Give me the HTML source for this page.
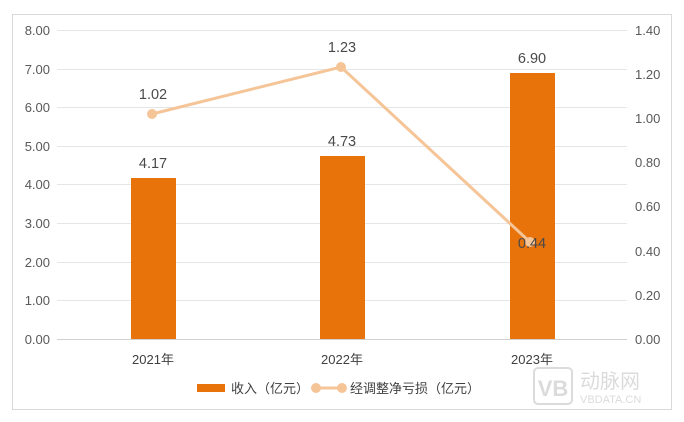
<!DOCTYPE html>
<html><head><meta charset="utf-8"><style>
html,body{margin:0;padding:0;background:#fff;}
svg{display:block;font-family:"Liberation Sans","Noto Sans CJK SC",sans-serif;}
</style></head><body>
<svg width="684" height="422" viewBox="0 0 684 422" xmlns="http://www.w3.org/2000/svg">
<rect x="12.5" y="14.5" width="659" height="395" fill="#fff" stroke="#d9d9d9"/>
<g stroke="#e6e6e6" stroke-width="1">
<line x1="57" x2="627" y1="30.5" y2="30.5"/>
<line x1="57" x2="627" y1="69.5" y2="69.5"/>
<line x1="57" x2="627" y1="107.5" y2="107.5"/>
<line x1="57" x2="627" y1="146.5" y2="146.5"/>
<line x1="57" x2="627" y1="184.5" y2="184.5"/>
<line x1="57" x2="627" y1="223.5" y2="223.5"/>
<line x1="57" x2="627" y1="262.5" y2="262.5"/>
<line x1="57" x2="627" y1="300.5" y2="300.5"/>
</g>
<line x1="57" x2="627" y1="339.5" y2="339.5" stroke="#d0d0d0"/>
<g font-size="13" fill="#595959" text-anchor="end">
<text x="50" y="35">8.00</text><text x="50" y="74">7.00</text><text x="50" y="112">6.00</text>
<text x="50" y="151">5.00</text><text x="50" y="189">4.00</text><text x="50" y="228">3.00</text>
<text x="50" y="267">2.00</text><text x="50" y="305">1.00</text><text x="50" y="344">0.00</text>
</g>
<g font-size="13" fill="#595959" text-anchor="start">
<text x="635" y="35">1.40</text><text x="635" y="79">1.20</text><text x="635" y="123">1.00</text>
<text x="635" y="167">0.80</text><text x="635" y="211">0.60</text><text x="635" y="256">0.40</text>
<text x="635" y="300">0.20</text><text x="635" y="344">0.00</text>
</g>
<g fill="#e8730a">
<rect x="131" y="178" width="45" height="161"/>
<rect x="320" y="156" width="45" height="183"/>
<rect x="510" y="73" width="45" height="266"/>
</g>
<polyline points="152,114 341,67 530,242" fill="none" stroke="#f5c497" stroke-width="3"/>
<g fill="#f5c497"><circle cx="152" cy="114" r="5"/><circle cx="341" cy="67" r="5"/><circle cx="530" cy="242" r="5"/></g>
<g font-size="14.5" fill="#4a4a4a" text-anchor="middle">
<text x="153" y="168">4.17</text><text x="342" y="146">4.73</text><text x="532" y="63">6.90</text>
<text x="153" y="99">1.02</text><text x="342" y="52">1.23</text><text x="532" y="248">0.44</text>
</g>
<g font-size="13" fill="#404040" text-anchor="middle">
<text x="153" y="364">2021年</text><text x="342" y="364">2022年</text><text x="532" y="364">2023年</text>
</g>
<rect x="197" y="384" width="28" height="8" fill="#e8730a"/>
<text x="231" y="393" font-size="13" fill="#404040">收入（亿元）</text>
<line x1="316" x2="342" y1="388" y2="388" stroke="#f5c497" stroke-width="3"/>
<circle cx="316" cy="388" r="5" fill="#f5c497"/><circle cx="342" cy="388" r="5" fill="#f5c497"/>
<text x="350" y="393" font-size="13" fill="#404040">经调整净亏损（亿元）</text>
<g opacity="0.35">
<rect x="534" y="368" width="38" height="36" rx="4" fill="none" stroke="#999" stroke-width="2"/>
<text x="553" y="396" font-size="22" font-weight="bold" fill="#999" text-anchor="middle">VB</text>
<text x="580" y="388" font-size="20" fill="#999">动脉网</text>
<text x="580" y="403" font-size="11" fill="#999">VBDATA.CN</text>
</g>
</svg>
</body></html>
